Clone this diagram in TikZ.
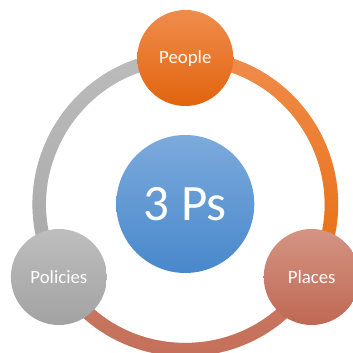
\documentclass[tikz,border=0pt]{standalone}
\usepackage{fontspec}
\setmainfont{Carlito}
\usepackage{xcolor}
\definecolor{bluetop}{RGB}{124,170,220}
\definecolor{bluebot}{RGB}{72,136,203}
\definecolor{peoptop}{RGB}{239,140,76}
\definecolor{peopbot}{RGB}{226,100,14}
\definecolor{plactop}{RGB}{213,148,131}
\definecolor{placbot}{RGB}{190,104,84}
\definecolor{politop}{RGB}{190,190,190}
\definecolor{polibot}{RGB}{162,162,162}
\definecolor{ringor1}{RGB}{240,140,76}
\definecolor{ringor2}{RGB}{232,110,14}
\definecolor{ringre1}{RGB}{204,124,102}
\definecolor{ringre2}{RGB}{194,108,86}
\definecolor{ringgr1}{RGB}{188,188,188}
\definecolor{ringgr2}{RGB}{168,168,168}
\usetikzlibrary{calc,positioning,backgrounds,fadings}
\tikzset{
  hub/.style={
    circle,draw=none,top color=bluetop,bottom color=bluebot,minimum size=138pt,inner sep=0pt,text=white,font=\fontsize{51}{58}\selectfont
  },
  spoke/.style={
    circle,draw=none,minimum size=96pt,inner sep=0pt,text=white,font=\fontsize{18.8}{22}\selectfont
  },
  peop/.style={spoke,top color=peoptop,bottom color=peopbot},
  plac/.style={spoke,top color=plactop,bottom color=placbot},
  poli/.style={spoke,top color=politop,bottom color=polibot},
  ring/.style={line width=13.5pt, bend left=60, looseness=1.135},
  ringor/.style={ring,draw=ringor2,postaction={draw=ringor1,path fading=south}},
  ringre/.style={ring,draw=ringre2,postaction={draw=ringre1,path fading=south}},
  ringgr/.style={ring,draw=ringgr2,postaction={draw=ringgr1,path fading=south}},
}
\begin{document}
\begin{tikzpicture}[x=1pt,y=1pt]
    \useasboundingbox (0,0) rectangle (353,353);

    \node[hub] (ps) at (185.3,149) {3 Ps};
    \node[peop,on grid,above=146pt of ps] (people) {People};
    \node[plac,on grid,below right=73pt and 126.4pt of ps] (places) {Places};
    \node[poli,on grid,below left=73pt and 126.4pt of ps] (policies) {Policies};

    \begin{scope}[on background layer]
      \path[ringor] (people.center) to (places.center);
      \path[ringre] (places.center) to (policies.center);
      \path[ringgr] (policies.center) to (people.center);
    \end{scope}
  \end{tikzpicture}
\end{document}
